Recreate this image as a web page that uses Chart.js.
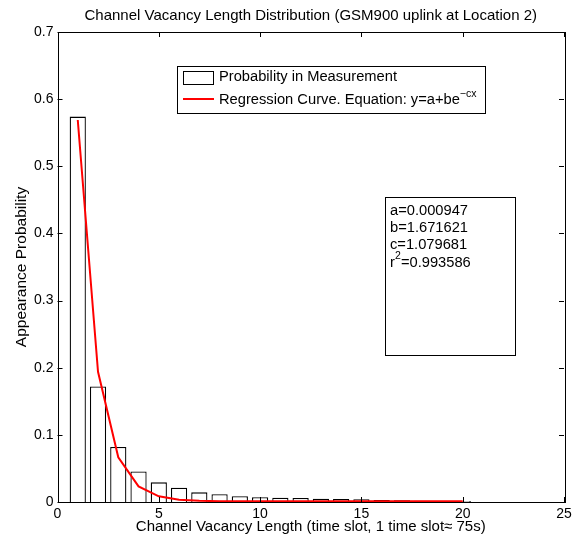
<!DOCTYPE html>
<html>
<head>
<meta charset="utf-8">
<script src="https://cdn.jsdelivr.net/npm/chart.js@4"></script>
<style>
  html, body { margin: 0; padding: 0; background: #fff; }
  #wrap { width: 581px; height: 540px; }
</style>
</head>
<body>
<div id="wrap"><canvas id="vacChart" width="581" height="540"></canvas></div>
<script>
const slots = [1, 2, 3, 4, 5, 6, 7, 8, 9, 10, 11, 12, 13, 14, 15, 16, 17, 18, 19, 20];
const measured = [0.574, 0.172, 0.082, 0.0455, 0.0293, 0.0213, 0.0144, 0.0115, 0.0085, 0.007,
                  0.0065, 0.006, 0.005, 0.0045, 0.004, 0.003, 0.0025, 0.002, 0.0015, 0.0015];
const regression = [0.569, 0.194, 0.0665, 0.0232, 0.0085, 0.0035, 0.0018, 0.0012, 0.0010, 0.0010,
                    0.0010, 0.0010, 0.0010, 0.0010, 0.0010, 0.0010, 0.0010, 0.0010, 0.0010, 0.0010];
const xTicks = [0, 5, 10, 15, 20, 25];
const yTicks = [0, 0.1, 0.2, 0.3, 0.4, 0.5, 0.6, 0.7];
const chartTitle = 'Channel Vacancy Length Distribution (GSM900 uplink at Location 2)';
const fitParams = ['a=0.000947', 'b=1.671621', 'c=1.079681'];
const fitR2 = '=0.993586';

const FONT = '"Liberation Sans", Arial, Helvetica, sans-serif';

// matlab style box, inward ticks, title, legend and parameter box
const matlabBox = {
  id: 'matlabBox',
  afterDraw(chart) {
    const c = chart.ctx, a = chart.chartArea;
    const xs = chart.scales.x, ys = chart.scales.y;
    c.save();
    c.strokeStyle = '#000';
    c.lineWidth = 1;
    c.strokeRect(Math.round(a.left) + 0.5, Math.round(a.top) + 0.5,
                 Math.round(a.right - a.left), Math.round(a.bottom - a.top));
    c.beginPath();
    xTicks.forEach(v => {
      const px = Math.round(xs.getPixelForValue(v)) + 0.5;
      c.moveTo(px, a.bottom); c.lineTo(px, a.bottom - 5);
      c.moveTo(px, a.top); c.lineTo(px, a.top + 5);
    });
    yTicks.forEach(v => {
      const py = Math.round(ys.getPixelForValue(v)) + 0.5;
      c.moveTo(a.left, py); c.lineTo(a.left + 5, py);
      c.moveTo(a.right, py); c.lineTo(a.right - 5, py);
    });
    c.stroke();

    // title, centred over the axes
    c.fillStyle = '#000';
    c.font = '15px ' + FONT;
    c.textAlign = 'center';
    c.textBaseline = 'middle';
    c.fillText(chartTitle, (a.left + a.right) / 2, 16);
    c.textAlign = 'left';

    // legend
    c.fillStyle = '#fff';
    c.fillRect(177, 66, 309, 47);
    c.strokeRect(177.5, 66.5, 308, 47);
    c.strokeStyle = '#000';
    c.strokeRect(183.5, 71.5, 30, 13);
    c.strokeStyle = '#ff0000';
    c.lineWidth = 2;
    c.beginPath(); c.moveTo(183, 99); c.lineTo(214, 99); c.stroke();
    c.fillStyle = '#000';
    c.font = '14.7px ' + FONT;
    c.fillText('Probability in Measurement', 219, 77);
    const eq = 'Regression Curve. Equation: y=a+be';
    c.fillText(eq, 219, 100);
    const w = c.measureText(eq).width;
    c.font = '10.5px ' + FONT;
    c.fillText('\u2212cx', 219 + w, 94);

    // parameter box
    c.strokeStyle = '#000';
    c.lineWidth = 1;
    c.strokeRect(385.5, 197.5, 130, 158);
    c.font = '14.7px ' + FONT;
    fitParams.forEach((t, i) => c.fillText(t, 390, 211 + i * 17));
    c.fillText('r', 390, 263);
    const rw = c.measureText('r').width;
    c.font = '10.5px ' + FONT;
    c.fillText('2', 390 + rw, 256);
    c.font = '14.7px ' + FONT;
    c.fillText(fitR2, 390 + rw + 6, 263);
    c.restore();
  }
};

new Chart(document.getElementById('vacChart'), {
  type: 'bar',
  data: {
    datasets: [{
      type: 'line',
      label: 'Regression Curve. Equation: y=a+be^-cx',
      data: slots.map((s, i) => ({x: s, y: regression[i]})),
      borderColor: '#ff0000',
      borderWidth: 2,
      pointRadius: 0,
      fill: false,
      tension: 0,
      order: 0
    }, {
      label: 'Probability in Measurement',
      data: slots.map((s, i) => ({x: s, y: measured[i]})),
      backgroundColor: '#fff',
      borderColor: '#000',
      borderWidth: 1.3,
      barPercentage: 0.8,
      categoryPercentage: 1,
      order: 1
    }]
  },
  options: {
    responsive: false,
    animation: false,
    layout: { padding: { left: 0, right: 17, top: 32, bottom: 0 } },
    plugins: {
      legend: { display: false },
      tooltip: { enabled: false },
      title: { display: false }
    },
    scales: {
      x: {
        type: 'linear',
        min: 0, max: 25,
        offset: false,
        afterBuildTicks: s => { s.ticks = xTicks.map(v => ({value: v})); },
        afterFit: s => { s.height = 38; },
        grid: { display: false, drawTicks: false },
        border: { display: false },
        ticks: { color: '#000', padding: 4, maxRotation: 0, font: { family: FONT, size: 14 } },
        title: {
          display: true,
          text: 'Channel Vacancy Length (time slot, 1 time slot\u2248 75s)',
          color: '#000',
          font: { family: FONT, size: 15 },
          padding: { top: 0, bottom: 4 }
        }
      },
      y: {
        min: 0, max: 0.7,
        afterBuildTicks: s => { s.ticks = yTicks.map(v => ({value: v})); },
        afterFit: s => { s.width = 57.5; },
        grid: { display: false, drawTicks: false },
        border: { display: false },
        ticks: { color: '#000', padding: 4, font: { family: FONT, size: 14 },
                 callback: v => String(Math.round(v * 10) / 10) },
        title: {
          display: true,
          text: 'Appearance Probability',
          color: '#000',
          font: { family: FONT, size: 15.5 },
          padding: { top: 12, bottom: 0 }
        }
      }
    }
  },
  plugins: [matlabBox]
});
</script>
</body>
</html>
